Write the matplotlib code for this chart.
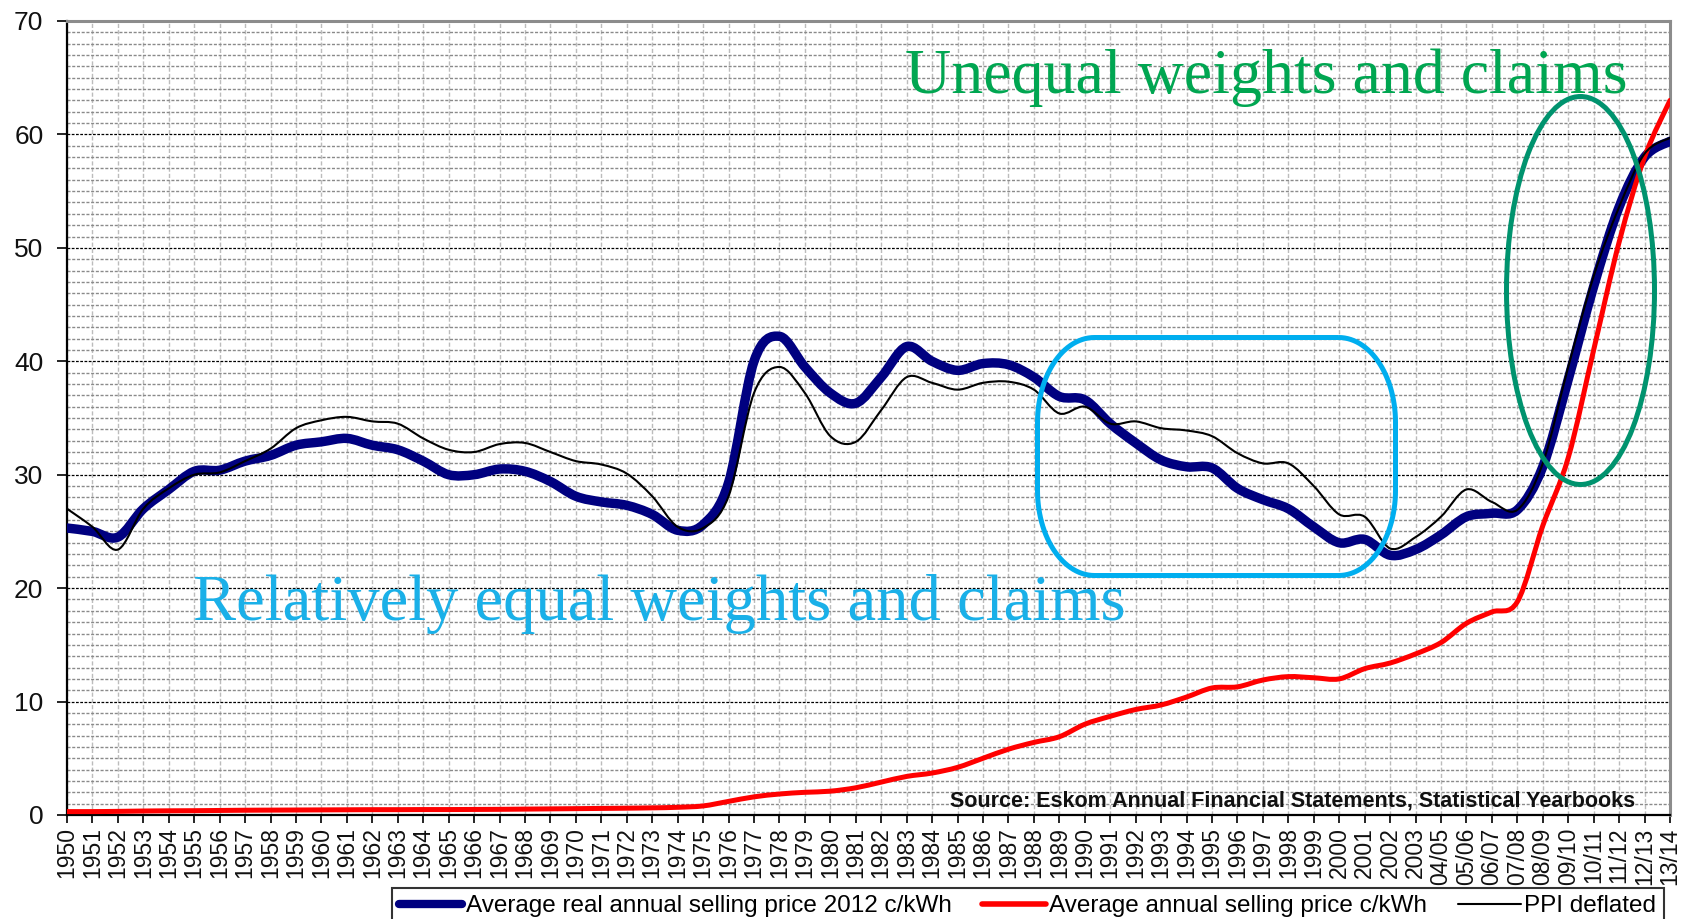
import numpy as np
import matplotlib
matplotlib.use("Agg")
import matplotlib.pyplot as plt
from matplotlib.path import Path
from matplotlib.patches import PathPatch, Ellipse
from matplotlib.lines import Line2D
from matplotlib.ticker import MultipleLocator, FixedLocator

# ---------------- data ----------------
categories = [str(y) for y in range(1950, 2004)] + [
    "04/05", "05/06", "06/07", "07/08", "08/09", "09/10", "10/11", "11/12", "12/13", "13/14"]

real_price_2012 = [
    25.3, 25.0, 24.5, 27.0, 28.7, 30.3, 30.4, 31.2, 31.7, 32.6,
    32.9, 33.2, 32.6, 32.2, 31.2, 30.0, 30.0, 30.5, 30.3, 29.4,
    28.1, 27.6, 27.3, 26.5, 25.1, 25.6, 29.3, 40.0, 42.2, 39.5,
    37.2, 36.3, 38.6, 41.3, 40.0, 39.2, 39.8, 39.7, 38.6, 36.9,
    36.6, 34.5, 32.8, 31.3, 30.7, 30.6, 28.8, 27.8, 27.0, 25.4,
    24.0, 24.3, 22.9, 23.4, 24.7, 26.3, 26.6, 26.9, 30.7, 38.4,
    46.6, 53.6, 58.0, 59.4]

nominal_price = [
    0.30, 0.30, 0.32, 0.35, 0.37, 0.38, 0.40, 0.42, 0.43, 0.44,
    0.45, 0.46, 0.47, 0.47, 0.48, 0.48, 0.49, 0.50, 0.52, 0.54,
    0.56, 0.58, 0.60, 0.63, 0.68, 0.80, 1.20, 1.60, 1.85, 2.00,
    2.10, 2.40, 2.90, 3.40, 3.70, 4.20, 5.00, 5.80, 6.40, 6.90,
    8.00, 8.70, 9.30, 9.70, 10.4, 11.2, 11.3, 11.9, 12.2, 12.1,
    12.0, 12.9, 13.4, 14.2, 15.2, 16.9, 17.9, 18.8, 25.5, 31.5,
    41.0, 50.5, 58.0, 63.0]

ppi_deflated = [
    27.0, 25.4, 23.4, 27.0, 28.8, 30.0, 30.2, 31.2, 32.3, 34.1,
    34.8, 35.1, 34.7, 34.5, 33.2, 32.2, 32.0, 32.7, 32.8, 32.0,
    31.2, 30.9, 30.1, 28.1, 25.4, 25.3, 28.1, 37.2, 39.5, 37.2,
    33.4, 32.9, 35.7, 38.6, 38.1, 37.5, 38.1, 38.2, 37.5, 35.4,
    36.0, 34.5, 34.7, 34.1, 33.9, 33.4, 31.9, 31.0, 31.0, 29.0,
    26.5, 26.3, 23.5, 24.5, 26.3, 28.7, 27.6, 26.9, 31.0, 39.5,
    47.5, 53.6, 58.3, 59.7]

series_labels = ["Average real annual selling price 2012 c/kWh",
                 "Average annual selling price c/kWh",
                 "PPI deflated"]

W, H = 1682, 919
plt.rcParams["font.family"] = ["Liberation Sans", "DejaVu Sans"]

fig = plt.figure(figsize=(W / 100, H / 100), dpi=100)
ax = fig.add_axes([67 / W, 1 - 815 / H, (1670 - 67) / W, (815 - 21) / H])

x = np.arange(len(categories))


def smooth_path(xs, ys):
    """Excel-like smoothed line: Catmull-Rom converted to cubic Bezier segments."""
    pts = np.column_stack([xs, ys]).astype(float)
    n = len(pts)
    verts = [pts[0]]
    codes = [Path.MOVETO]
    for i in range(n - 1):
        p0 = pts[i - 1] if i > 0 else pts[i]
        p1 = pts[i]
        p2 = pts[i + 1]
        p3 = pts[i + 2] if i + 2 < n else pts[i + 1]
        c1 = p1 + (p2 - p0) / 6.0
        c2 = p2 - (p3 - p1) / 6.0
        verts += [c1, c2, p2]
        codes += [Path.CURVE4] * 3
    return Path(verts, codes)


styles = [
    (real_price_2012, "#000080", 6.8, 3),
    (nominal_price, "#ff0000", 3.6, 4),
    (ppi_deflated, "#000000", 1.5, 5),
]
for vals, col, lw, z in styles:
    ax.add_patch(PathPatch(smooth_path(x, vals), facecolor="none", edgecolor=col,
                           lw=lw, zorder=z, capstyle="round", joinstyle="round"))

ax.set_xlim(0, len(categories) - 1)
ax.set_ylim(0, 70)

# grid
ax.set_axisbelow(True)
ax.yaxis.set_major_locator(MultipleLocator(10))
ax.yaxis.set_minor_locator(MultipleLocator(1))
ax.xaxis.set_major_locator(FixedLocator(x))
ax.set_xticklabels(categories, rotation=90, fontsize=16.5, color="#111111")
ax.tick_params(axis="x", which="major", direction="out", length=6, width=1.2, pad=3)
ax.tick_params(axis="y", which="major", direction="out", length=7, width=1.2, pad=10,
               labelsize=19, labelcolor="#111111")
ax.tick_params(axis="y", which="minor", length=0)
ax.grid(axis="y", which="major", color="#000000", lw=0.9, linestyle=(0, (2.2, 1.2)))
ax.grid(axis="y", which="minor", color="#8a8a8a", lw=1.0, linestyle=(0, (2.2, 1.2)))
ax.grid(axis="x", which="major", color="#bcbcbc", lw=1.0, linestyle=(0, (3, 1.5)))

for s in ["left", "bottom"]:
    ax.spines[s].set_color("#000000")
    ax.spines[s].set_linewidth(1.6)
for s in ["top", "right"]:
    ax.spines[s].set_color("#8c8c8c")
    ax.spines[s].set_linewidth(2.2)

# ---------------- annotations ----------------
def px(xp, yp):
    return xp / W, 1 - yp / H

fig.text(*px(905, 93), "Unequal weights and claims", color="#00a651",
         fontsize=46, family=["Liberation Serif", "DejaVu Serif"], va="baseline", ha="left",
         zorder=6)
fig.text(*px(193, 620), "Relatively equal weights and claims", color="#1ab0e8",
         fontsize=46.5, family=["Liberation Serif", "DejaVu Serif"], va="baseline", ha="left",
         zorder=6)
fig.text(*px(1635, 806), "Source: Eskom Annual Financial Statements, Statistical Yearbooks",
         fontsize=15.5, fontweight="bold",
         family=["Liberation Sans Narrow", "Liberation Sans", "DejaVu Sans"],
         va="baseline", ha="right", color="#111111", zorder=6)

# rounded (elliptical-corner) box
x0, x1, y0, y1 = 1037.5, 1395.5, 337.5, 575.5
rx, ry = 57, 85
pts = []
corners = [(x1 - rx, y0 + ry, -90, 0), (x1 - rx, y1 - ry, 0, 90),
           (x0 + rx, y1 - ry, 90, 180), (x0 + rx, y0 + ry, 180, 270)]
for cx, cy, a0, a1 in corners:
    t = np.radians(np.linspace(a0, a1, 30))
    for tt in t:
        pts.append(((cx + rx * np.cos(tt)) / W, 1 - (cy + ry * np.sin(tt)) / H))
pts.append(pts[0])
box = PathPatch(Path(pts), transform=fig.transFigure, facecolor="none",
                edgecolor="#00aeef", lw=3.6, zorder=7)
fig.add_artist(box)

ell = Ellipse(px(1580.5, 290.5), 148 / W, 388 / H, transform=fig.transFigure,
              facecolor="none", edgecolor="#00936e", lw=3.6, zorder=7)
fig.add_artist(ell)

# ---------------- legend ----------------
handles = [Line2D([], [], color=c, lw=lw, solid_capstyle="round") for _, c, lw, _ in styles]
handles[0].set_linewidth(6.0)
handles[1].set_linewidth(4.0)
leg = fig.legend(handles, series_labels, ncol=3, loc="upper left",
                 bbox_to_anchor=px(392, 888), borderaxespad=0, fontsize=17.5,
                 frameon=True, fancybox=False, edgecolor="#000000",
                 handlelength=2.6, handletextpad=0.15, columnspacing=1.25, borderpad=0.3)
leg.get_frame().set_linewidth(1.5)

fig.savefig("out.png", dpi=100)
